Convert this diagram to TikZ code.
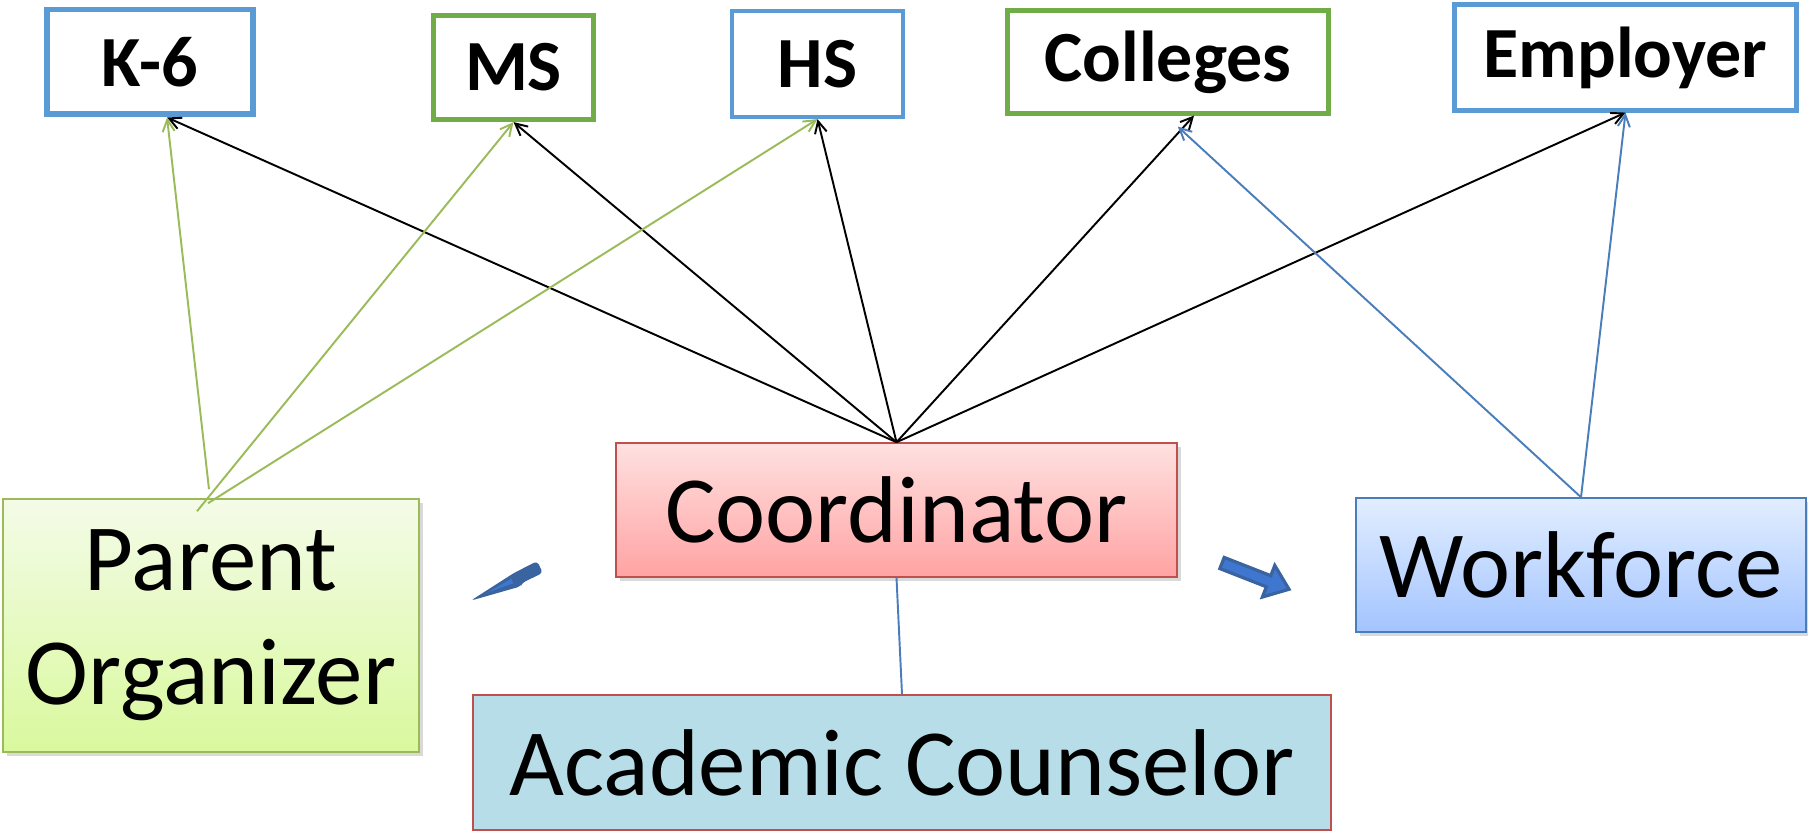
\documentclass[tikz,border=0pt]{standalone}
\usepackage{fontspec}
\setmainfont{Carlito}
\usetikzlibrary{arrows.meta,shadows,calc}
\definecolor{boxblue}{HTML}{5B9BD5}
\definecolor{boxgreen}{HTML}{70AD47}
\definecolor{linegreen}{HTML}{9BBB59}
\definecolor{lineblue}{HTML}{4A7EBB}
\definecolor{rededge}{HTML}{C0504D}
\definecolor{arrowout}{HTML}{3A64A0}
\definecolor{arrowin}{HTML}{3F76D0}
\tikzset{
  level/.style={draw, fill=white, line width=2.4pt, inner sep=0pt,
    font=\fontsize{41}{45}\selectfont\bfseries},
  role/.style={draw, line width=0.9pt, inner sep=0pt, align=center,
    font=\fontsize{54}{65}\selectfont},
  shade/.style={drop shadow={shadow xshift=2.5pt, shadow yshift=-2.5pt, opacity=0.3}},
  link/.style={-{Straight Barb[length=2.4mm,width=2.4mm]}, line width=1.1pt},
}
\begin{document}
\begin{tikzpicture}[x=0.02cm, y=-0.02cm]
\useasboundingbox (0,0) rectangle (1808,834);
% school levels and partners
\node[level, draw=boxblue, line width=3.4pt, minimum width=4.14cm, minimum height=2.10cm] (k6) at (150,62) {K-6};
\node[level, draw=boxgreen, line width=3pt, minimum width=3.2cm, minimum height=2.08cm] (ms) at (513.5,67.5) {MS};
\node[level, draw=boxblue, minimum width=3.42cm, minimum height=2.12cm] (hs) at (817.5,64) {HS};
\node[level, draw=boxgreen, minimum width=6.42cm, minimum height=2.06cm] (colleges) at (1168,62) {Colleges};
\node[level, draw=boxblue, minimum width=6.84cm, minimum height=2.12cm] (employer) at (1625.5,57.5) {Employer};
% roles
\node[role, shade, draw=rededge, top color=red!12, bottom color=red!36!white, minimum width=11.22cm, minimum height=2.68cm] (coord) at (896.5,510) {Coordinator};
\node[role, shade, draw=linegreen, top color={rgb,255:red,244;green,251;blue,232}, bottom color={rgb,255:red,217;green,249;blue,157}, minimum width=8.32cm, minimum height=5.06cm] (parent) at (211,625.5) {Parent\\Organizer};
\node[role, shade, draw=lineblue, top color={rgb,255:red,226;green,238;blue,255}, bottom color={rgb,255:red,163;green,196;blue,255}, minimum width=9.0cm, minimum height=2.68cm] (work) at (1581,565) {Workforce};
\node[role, draw=rededge, fill={rgb,255:red,183;green,222;blue,232}, minimum width=17.16cm, minimum height=2.7cm] (counsel) at (902,762.5) {Academic Counselor};
% connectors
\draw[link] (coord.north) -- ($(k6.south west)!0.58!(k6.south east)$);
\draw[link] (coord.north) -- (ms.south);
\draw[link] (coord.north) -- (hs.south);
\draw[link] (coord.north) -- ($(colleges.south west)!0.58!(colleges.south east)$);
\draw[link] (coord.north) -- (employer.south);
\draw[link, linegreen] ($(parent.north)+(-2,-9)$) -- ($(k6.south west)!0.58!(k6.south east)$);
\draw[link, linegreen] ($(parent.north)+(-14,13)$) -- (ms.south);
\draw[link, linegreen] ($(parent.north)+(-3,5)$) -- (hs.south);
\draw[link, lineblue] (work.north) -- ($(colleges.south west)!0.53!(colleges.south east)+(0,11)$);
\draw[link, lineblue] (work.north) -- (employer.south);
\draw[lineblue, line width=1.1pt] (coord.south) -- (counsel.north);
% block arrows
\begin{scope}[shift={(540,567)}, rotate=205.9]
\fill[arrowout, rounded corners=2pt] (0,-6.5) -- (23,-6.5) -- (26,-9) -- (77,0) -- (26,6) -- (0,6.5) -- cycle;
\fill[arrowin] (31,-3) -- (58,0) -- (31,2) -- cycle;
\end{scope}
\begin{scope}[shift={(1222,563)}, rotate=-21.4]
\filldraw[fill=arrowin, draw=arrowout, line width=1.8pt, line join=miter] (0,-6) -- (50,-6) -- (50,-17) -- (72,0) -- (50,17) -- (50,6) -- (0,6) -- cycle;
\end{scope}
\end{tikzpicture}
\end{document}
